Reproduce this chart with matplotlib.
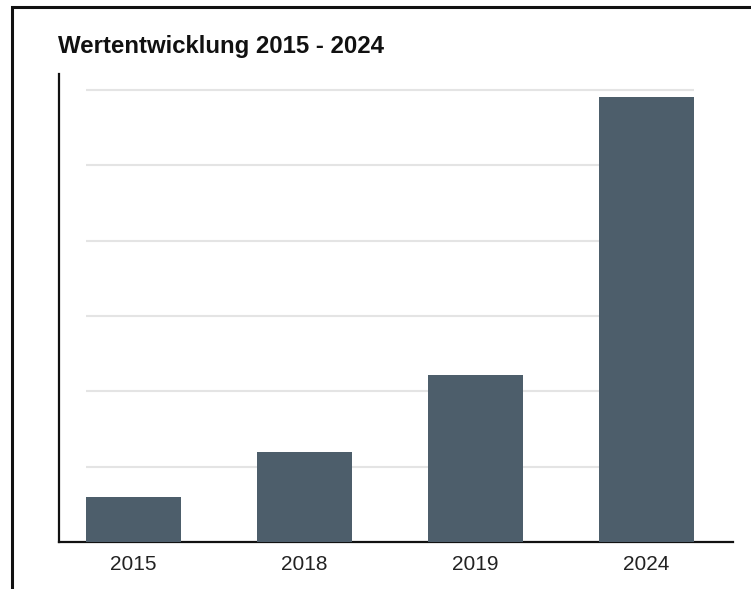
import matplotlib
matplotlib.use("Agg")
import matplotlib.pyplot as plt
from matplotlib.lines import Line2D

years = ["2015", "2018", "2019", "2024"]
values = [0.60, 1.195, 2.22, 5.91]
grid_levels = [1, 2, 3, 4, 5, 6]
title = "Wertentwicklung 2015 - 2024"

bar_color = "#4d5e6b"
bar_width = 0.555

fig = plt.figure(figsize=(7.51, 5.89), dpi=100)
ax = fig.add_axes([59/751, 47/589, 674/751, 468/589])

x = list(range(len(years)))
ax.bar(x, values, width=bar_width, color=bar_color, zorder=3)

x_left = x[0] - bar_width/2
x_right = x[-1] + bar_width/2
ax.hlines(grid_levels, x_left, x_right, colors="#e4e4e4", linewidth=1.5, zorder=1)

ax.set_xlim(-0.436, 3.506)
ax.set_ylim(0, 6.215)
ax.set_xticks(x)
ax.set_xticklabels(years, fontsize=15, family="Liberation Sans", color="#222222")
ax.tick_params(axis="x", length=0, pad=9)
ax.set_yticks([])
for s in ["top", "right"]:
    ax.spines[s].set_visible(False)
for s in ["left", "bottom"]:
    ax.spines[s].set_linewidth(1.6)
    ax.spines[s].set_color("#111111")

fig.text(58/751, 1 - 46/589, title, fontsize=17.3, fontweight="bold",
         family="Liberation Sans", va="center", ha="left", color="#111111")

# outer frame (cropped at right and bottom)
fig.add_artist(Line2D([12/751, 12/751, 1.0], [0.0, 1 - 7/589, 1 - 7/589],
                      transform=fig.transFigure, color="#111111", linewidth=2.2,
                      solid_joinstyle="miter"))

fig.savefig("out.png", dpi=100)
